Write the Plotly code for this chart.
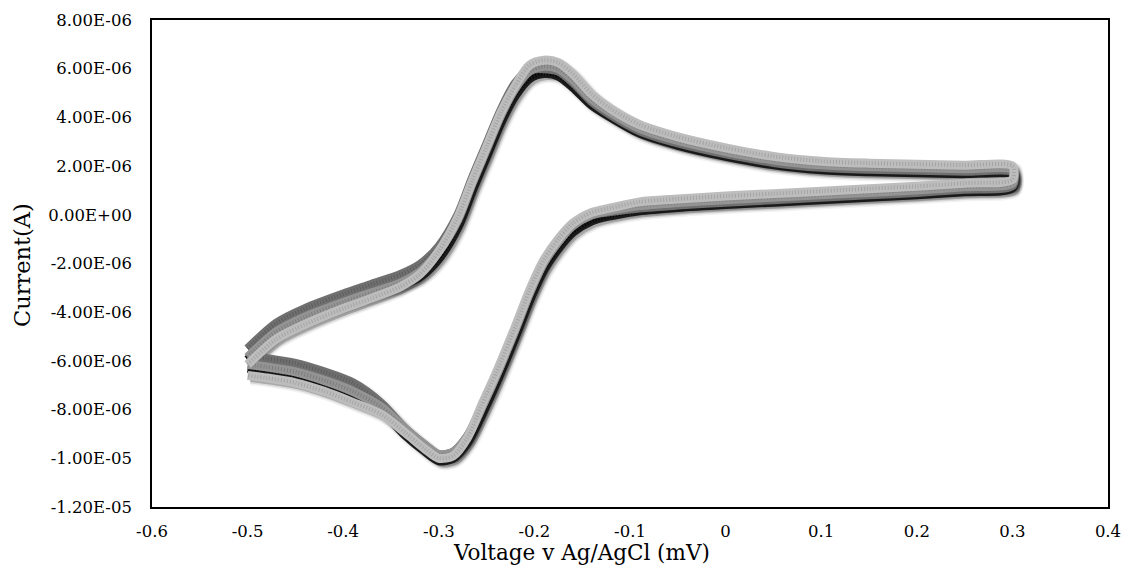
import plotly.graph_objects as go

# Potential sweep (V vs Ag/AgCl): forward branch -0.5 -> 0.3, then reverse 0.3 -> -0.5
v_forward = [-0.5, -0.47, -0.44, -0.40, -0.37, -0.34, -0.32, -0.30, -0.28, -0.265,
             -0.25, -0.235, -0.22, -0.205, -0.19, -0.175, -0.16, -0.14, -0.12, -0.09,
             -0.05, 0.0, 0.05, 0.10, 0.15, 0.20, 0.25, 0.30]
v_reverse = [0.30, 0.25, 0.20, 0.15, 0.10, 0.05, 0.0, -0.05, -0.09, -0.12,
             -0.14, -0.16, -0.175, -0.19, -0.205, -0.22, -0.24, -0.255, -0.27, -0.285,
             -0.30, -0.315, -0.335, -0.36, -0.39, -0.42, -0.45, -0.48, -0.5]

# Current in microamps for four successive scans
scan1_fwd = [-5.95, -4.9, -4.3, -3.7, -3.3, -2.9, -2.55, -1.8, -0.5, 1.0, 2.4, 3.8, 4.9, 5.6,
             5.8, 5.7, 5.25, 4.5, 4.0, 3.35, 2.85, 2.4, 2.05, 1.85, 1.77, 1.73, 1.69, 1.65]
scan1_rev = [1.1, 0.95, 0.82, 0.72, 0.62, 0.52, 0.42, 0.3, 0.16, -0.04, -0.25, -0.72, -1.38,
             -2.25, -3.5, -5.0, -6.9, -8.2, -9.35, -10.0, -10.1, -9.7, -9.05, -8.05,
             -7.4, -6.95, -6.6, -6.4, -6.3]

scan2_fwd = [-5.5, -4.45, -3.85, -3.25, -2.85, -2.45, -2.05, -1.3, 0.0, 1.5, 2.9, 4.3, 5.4,
             5.95, 6.0, 5.9, 5.45, 4.65, 4.1, 3.45, 2.95, 2.5, 2.15, 1.95, 1.87, 1.83, 1.79, 1.75]
scan2_rev = [1.2, 1.05, 0.92, 0.82, 0.72, 0.62, 0.52, 0.4, 0.28, 0.13, 0.0, -0.45, -1.1,
             -1.95, -3.2, -4.7, -6.6, -7.9, -9.1, -9.75, -9.85, -9.45, -8.8, -7.75,
             -6.9, -6.45, -6.1, -5.9, -5.8]

scan3_fwd = [-5.85, -4.8, -4.2, -3.6, -3.2, -2.8, -2.35, -1.5, -0.2, 1.3, 2.7, 4.1, 5.2,
             5.9, 6.1, 6.0, 5.55, 4.75, 4.2, 3.55, 3.05, 2.6, 2.25, 2.05, 1.97, 1.93, 1.89, 1.85]
scan3_rev = [1.3, 1.15, 1.02, 0.92, 0.82, 0.72, 0.62, 0.5, 0.38, 0.18, 0.0, -0.45, -1.1,
             -1.95, -3.2, -4.7, -6.6, -7.9, -9.1, -9.75, -9.85, -9.45, -8.8, -7.9,
             -7.25, -6.8, -6.45, -6.25, -6.15]

scan4_fwd = [-6.15, -5.1, -4.5, -3.85, -3.42, -2.95, -2.45, -1.5, -0.1, 1.4, 2.8, 4.2, 5.3,
             6.15, 6.35, 6.25, 5.8, 4.95, 4.35, 3.7, 3.2, 2.75, 2.4, 2.2, 2.12, 2.08, 2.04, 2.0]
scan4_rev = [1.45, 1.3, 1.17, 1.07, 0.97, 0.87, 0.77, 0.65, 0.53, 0.28, 0.1, -0.35, -1.0,
             -1.85, -3.1, -4.6, -6.5, -7.8, -9.15, -9.9, -10.0, -9.6, -8.95, -8.2,
             -7.7, -7.25, -6.9, -6.7, -6.6]

scan_colors = ["#1a1a1a", "#707070", "#949494", "#bdbdbd"]
scan_marker_colors = ["#000000", "#5c5c5c", "#7c7c7c", "#a4a4a4"]

x_ticks = [-0.6, -0.5, -0.4, -0.3, -0.2, -0.1, 0, 0.1, 0.2, 0.3, 0.4]
x_tick_text = ["-0.6", "-0.5", "-0.4", "-0.3", "-0.2", "-0.1", "0", "0.1", "0.2", "0.3", "0.4"]
y_ticks = [8e-6, 6e-6, 4e-6, 2e-6, 0, -2e-6, -4e-6, -6e-6, -8e-6, -1e-5, -1.2e-5]
y_tick_text = ["8.00E-06", "6.00E-06", "4.00E-06", "2.00E-06", "0.00E+00", "-2.00E-06",
               "-4.00E-06", "-6.00E-06", "-8.00E-06", "-1.00E-05", "-1.20E-05"]

scans = [(scan1_fwd, scan1_rev), (scan2_fwd, scan2_rev),
         (scan3_fwd, scan3_rev), (scan4_fwd, scan4_rev)]
volts = v_forward + v_reverse

FONT = "DejaVu Serif"
W, H = 1125, 575
PW, PH = 956, 487          # plot area in px
SH = 3                     # drop-shadow offset in px
ml, mt = 152, 20
mr = W - ml - PW - SH
mb = H - mt - PH - SH
area_w, area_h = PW + SH, PH + SH


def px_x(px):
    return (px - ml) / area_w


def px_y(py):
    return 1 - (py - mt) / area_h


fig = go.Figure()

# soft drop shadow: same loops drawn on a copy of the axes shifted down-right
for fwd, rev in scans:
    amps = [c * 1e-6 for c in fwd + rev]
    for width, alpha in [(13, 0.05), (10, 0.10), (7, 0.22)]:
        fig.add_trace(go.Scatter(
            x=volts, y=amps, mode="lines", xaxis="x", yaxis="y",
            line=dict(color=f"rgba(0,0,0,{alpha})", width=width, shape="spline", smoothing=0.8),
            hoverinfo="skip", showlegend=False))

# the scans themselves, with a fine dashed core standing in for the dense markers
for (fwd, rev), col, mcol in zip(scans, scan_colors, scan_marker_colors):
    amps = [c * 1e-6 for c in fwd + rev]
    fig.add_trace(go.Scatter(
        x=volts, y=amps, mode="lines", xaxis="x2", yaxis="y2",
        line=dict(color=col, width=9, shape="spline", smoothing=0.8),
        showlegend=False))
    fig.add_trace(go.Scatter(
        x=volts, y=amps, mode="lines", xaxis="x2", yaxis="y2",
        line=dict(color=mcol, width=4, shape="spline", smoothing=0.8, dash="1px,2px"),
        hoverinfo="skip", showlegend=False))

xr = [-0.6, 0.4]
yr = [-1.2e-5, 8e-6]
dx = SH / area_w
dy = SH / area_h

axis_common = dict(showgrid=False, zeroline=False, ticks="", automargin=False,
                   showline=True, linecolor="black", linewidth=1.6, mirror=True,
                   tickfont=dict(family=FONT, size=16.5), fixedrange=True)

fig.update_layout(
    width=W, height=H,
    margin=dict(l=ml, r=mr, t=mt, b=mb, autoexpand=False),
    paper_bgcolor="white", plot_bgcolor="rgba(0,0,0,0)",
    font=dict(family=FONT, color="black", size=16.5),
    showlegend=False,
    xaxis=dict(domain=[dx, 1], range=xr, visible=False, fixedrange=True, automargin=False),
    yaxis=dict(domain=[0, 1 - dy], range=yr, visible=False, fixedrange=True, automargin=False),
    xaxis2=dict(domain=[0, 1 - dx], range=xr, anchor="y2",
                tickmode="array", tickvals=x_ticks, ticktext=x_tick_text,
                ticklabelstandoff=8, **axis_common),
    yaxis2=dict(domain=[dy, 1], range=yr, anchor="x2",
                tickmode="array", tickvals=y_ticks, ticktext=y_tick_text,
                ticklabelstandoff=15, **axis_common),
    annotations=[
        dict(text="Voltage v Ag/AgCl (mV)", xref="paper", yref="paper",
             x=px_x(581), y=px_y(552), xanchor="center", yanchor="middle",
             showarrow=False, font=dict(family=FONT, size=21.5, color="black")),
        dict(text="Current(A)", xref="paper", yref="paper",
             x=px_x(22), y=px_y(265), xanchor="center", yanchor="middle", textangle=-90,
             showarrow=False, font=dict(family=FONT, size=22.5, color="black")),
    ],
)

fig.write_html("out.html")
